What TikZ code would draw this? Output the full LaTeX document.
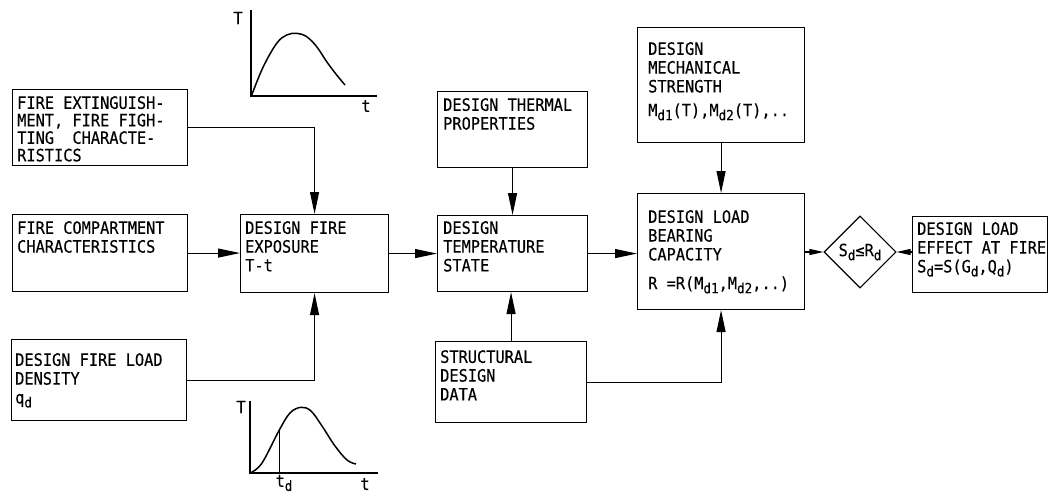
\documentclass[tikz,border=0pt]{standalone}
\usepackage{fontspec}
\setmainfont{DejaVu Sans Mono}[FakeStretch=0.9, FakeBold=0.3]
\usetikzlibrary{arrows.meta,shapes.geometric}
\newcommand\sbs[1]{\raisebox{-4pt}{\fontsize{14}{14}\selectfont #1}}
\begin{document}
\begin{tikzpicture}[x=1pt,y=-1pt,
  box/.style={draw, line width=1.1pt, inner sep=0pt, anchor=north west},
  txt/.style={anchor=north west, inner sep=0pt, align=left, font=\fontsize{17}{18.8}\selectfont},
  arr/.style={-{Triangle[length=22pt,width=9pt]}, line width=1.1pt},
  sarr/.style={-{Triangle[length=14pt,width=6pt]}, line width=1.1pt},
  ln/.style={line width=1.1pt},
  crv/.style={line width=1.5pt},
  lab/.style={inner sep=0pt, font=\fontsize{17}{18}\selectfont}]
\useasboundingbox[fill=white] (0,0) rectangle (1048,493);

% boxes
\node[box, minimum width=175pt, minimum height=76pt] (ext) at (12,89) {};
\node[box, minimum width=175pt, minimum height=77pt] (comp) at (12,214) {};
\node[box, minimum width=175pt, minimum height=81pt] (load) at (11,339) {};
\node[box, minimum width=148pt, minimum height=78pt] (exp) at (240,214) {};
\node[box, minimum width=150pt, minimum height=76pt] (therm) at (437,91) {};
\node[box, minimum width=150pt, minimum height=76pt] (temp) at (437,215) {};
\node[box, minimum width=151pt, minimum height=81pt] (struct) at (435,341) {};
\node[box, minimum width=167pt, minimum height=115pt] (mech) at (637,27) {};
\node[box, minimum width=167pt, minimum height=116pt] (bear) at (637,193) {};
\node[draw, diamond, line width=1.1pt, minimum size=72pt, inner sep=0pt, font=\fontsize{17}{18}\selectfont] (dia) at (860,252) {S\sbs{d}≤R\sbs{d}};
\node[box, minimum width=135pt, minimum height=76pt] (eff) at (912,216) {};

% texts
\node[txt, font=\fontsize{17}{17.5}\selectfont] (extT) at (17,96) {FIRE EXTINGUISH-\\MENT, FIRE FIGH-\\TING\ \ CHARACTE-\\RISTICS};
\node[txt] (compT) at (17,221) {FIRE COMPARTMENT\\CHARACTERISTICS};
\node[txt] (loadT) at (15,353) {DESIGN FIRE LOAD\\DENSITY\\q\sbs{d}};
\node[txt] (expT) at (245,221) {DESIGN FIRE\\EXPOSURE\\T-t};
\node[txt] (thermT) at (443,98) {DESIGN THERMAL\\PROPERTIES};
\node[txt] (tempT) at (443,221) {DESIGN\\TEMPERATURE\\STATE};
\node[txt] (structT) at (440,350) {STRUCTURAL\\DESIGN\\DATA};
\node[txt] (mechT) at (648,42) {DESIGN\\MECHANICAL\\STRENGTH\\[5pt]M\sbs{d1}(T),M\sbs{d2}(T),..};
\node[txt] (bearT) at (648,210) {DESIGN LOAD\\BEARING\\CAPACITY\\[10pt]R =R(M\sbs{d1},M\sbs{d2},..)};
\node[txt] (effT) at (917,222) {DESIGN LOAD\\EFFECT AT FIRE\\S\sbs{d}=S(G\sbs{d},Q\sbs{d})};

% connectors
\coordinate (c1) at (exp.north |- ext.east);
\draw[arr] (ext.east) -- (c1) -- (exp.north);
\draw[arr] (comp.east) -- (comp.east -| exp.west);
\draw[arr] (load.east) -| (exp.south);
\draw[arr] (exp.east) -- (exp.east -| temp.west);
\draw[arr] (therm.south) -- (therm.south |- temp.north);
\draw[arr] (struct.north) -- (struct.north |- temp.south);
\draw[arr] (temp.east) -- (temp.east -| bear.west);
\draw[arr] (struct.east) -| (bear.south);
\draw[arr] (mech.south) -- (bear.north);
\draw[sarr] (bear.east |- dia.west) -- (dia.west);
\draw[sarr] (eff.west |- dia.east) -- (dia.east);

% top graph
\coordinate (o1) at (251,96);
\coordinate (ty1) at (251,10);
\coordinate (tx1) at (377,96);
\draw[ln] (ty1) -- (o1) -- (tx1);
\node[lab] (T1) at (238,18) {T};
\node[lab] (t1) at (366,106) {t};
\draw[crv] plot[smooth, tension=0.6] coordinates {(251.7,95) (263.3,66.7) (276.7,43.3) (286.7,35) (296.7,33.3) (306.7,36.7) (316.7,46.7) (326.7,61.7) (336.7,75) (345,85)};

% bottom graph
\coordinate (o2) at (250,473);
\coordinate (ty2) at (250,401);
\coordinate (tx2) at (378,473);
\draw[ln] (ty2) -- (o2) -- (tx2);
\coordinate (tdb) at (279.3,473);
\coordinate (tdt) at (279.3,430);
\draw[line width=0.9pt] (tdb) -- (tdt);
\node[lab] (T2) at (241,407) {T};
\node[lab] (td) at (284,483) {t\sbs{d}};
\node[lab] (t2) at (365,484) {t};
\draw[crv] plot[smooth, tension=0.6] coordinates {(250.7,472.7) (262,463) (279.3,430) (290,413) (301,407.3) (311,411) (322,426) (335,446) (347,460) (356,464)};
\end{tikzpicture}
\end{document}
